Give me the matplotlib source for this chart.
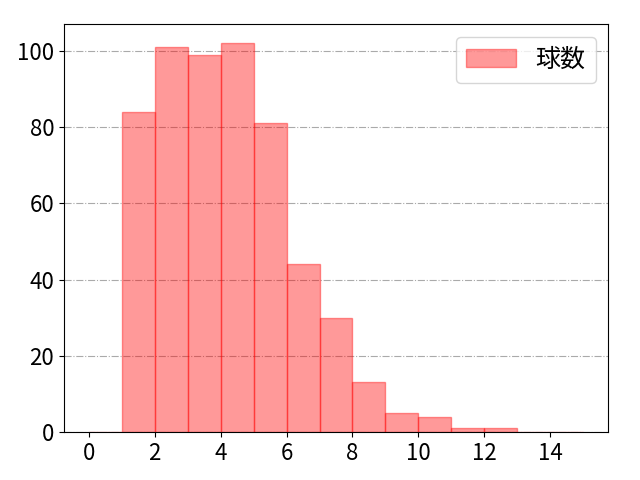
import numpy as np
import matplotlib
matplotlib.use('Agg')
import matplotlib.pyplot as plt

plt.rcParams['font.family'] = ['Noto Sans CJK JP', 'DejaVu Sans']

# bin edges and pitch counts
bin_edges = np.arange(0, 16)
counts = [0, 84, 101, 99, 102, 81, 44, 30, 13, 5, 4, 1, 1, 0, 0]

fig, ax = plt.subplots(figsize=(6.4, 4.8), dpi=100)
ax.hist(bin_edges[:-1], bins=bin_edges, weights=counts,
        color='red', alpha=0.4, edgecolor='red', label='球数')
ax.grid(axis='y', linestyle='-.', color='#aaaaaa')
ax.set_axisbelow(True)
ax.set_xticks(range(0, 16, 2))
ax.tick_params(labelsize=16)
ax.legend(fontsize=18, loc='upper right')
fig.subplots_adjust(left=0.1, right=0.95, top=0.95, bottom=0.1)
fig.savefig('out.png')
